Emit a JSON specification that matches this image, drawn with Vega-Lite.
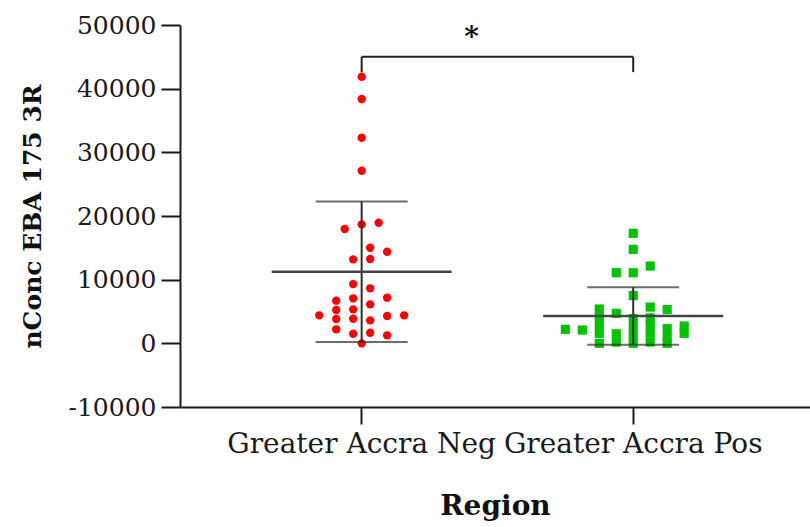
{
  "$schema": "https://vega.github.io/schema/vega-lite/v6.json",
  "autosize": {"type": "none"},
  "width": 630,
  "height": 382,
  "padding": {"left": 180, "top": 25, "right": 0, "bottom": 120},
  "background": "white",
  "config": {
    "view": {"stroke": null},
    "font": "DejaVu Serif",
    "axis": {
      "domainColor": "#1a1a1a",
      "domainWidth": 2,
      "tickColor": "#1a1a1a",
      "tickWidth": 2,
      "labelColor": "#1a1a1a",
      "titleColor": "#111111",
      "labelFont": "DejaVu Serif",
      "titleFont": "DejaVu Serif",
      "grid": false
    }
  },
  "datasets": {
    "samples": [
      {"region": "Greater Accra Neg", "slot": 0, "nconc": 41870},
      {"region": "Greater Accra Neg", "slot": 0, "nconc": 38370},
      {"region": "Greater Accra Neg", "slot": 0, "nconc": 32290},
      {"region": "Greater Accra Neg", "slot": 0, "nconc": 27110},
      {"region": "Greater Accra Neg", "slot": -2, "nconc": 17950},
      {"region": "Greater Accra Neg", "slot": 0, "nconc": 18690},
      {"region": "Greater Accra Neg", "slot": 2, "nconc": 18940},
      {"region": "Greater Accra Neg", "slot": 1, "nconc": 15020},
      {"region": "Greater Accra Neg", "slot": 3, "nconc": 14390},
      {"region": "Greater Accra Neg", "slot": -1, "nconc": 13190},
      {"region": "Greater Accra Neg", "slot": 1, "nconc": 13240},
      {"region": "Greater Accra Neg", "slot": -1, "nconc": 9310},
      {"region": "Greater Accra Neg", "slot": 1, "nconc": 8640},
      {"region": "Greater Accra Neg", "slot": -3, "nconc": 6700},
      {"region": "Greater Accra Neg", "slot": -1, "nconc": 7070},
      {"region": "Greater Accra Neg", "slot": 3, "nconc": 7170},
      {"region": "Greater Accra Neg", "slot": 1, "nconc": 6120},
      {"region": "Greater Accra Neg", "slot": -5, "nconc": 4390},
      {"region": "Greater Accra Neg", "slot": -3, "nconc": 5230},
      {"region": "Greater Accra Neg", "slot": -1, "nconc": 5340},
      {"region": "Greater Accra Neg", "slot": -3, "nconc": 3820},
      {"region": "Greater Accra Neg", "slot": -1, "nconc": 3870},
      {"region": "Greater Accra Neg", "slot": 1, "nconc": 3610},
      {"region": "Greater Accra Neg", "slot": 3, "nconc": 4290},
      {"region": "Greater Accra Neg", "slot": 5, "nconc": 4390},
      {"region": "Greater Accra Neg", "slot": -3, "nconc": 2200},
      {"region": "Greater Accra Neg", "slot": -1, "nconc": 1510},
      {"region": "Greater Accra Neg", "slot": 1, "nconc": 1670},
      {"region": "Greater Accra Neg", "slot": 3, "nconc": 1260},
      {"region": "Greater Accra Neg", "slot": 0, "nconc": 0},
      {"region": "Greater Accra Pos", "slot": 0, "nconc": 17280},
      {"region": "Greater Accra Pos", "slot": 0, "nconc": 14760},
      {"region": "Greater Accra Pos", "slot": -2, "nconc": 11090},
      {"region": "Greater Accra Pos", "slot": 0, "nconc": 11090},
      {"region": "Greater Accra Pos", "slot": 2, "nconc": 12140},
      {"region": "Greater Accra Pos", "slot": 0, "nconc": 7500},
      {"region": "Greater Accra Pos", "slot": -8, "nconc": 2200},
      {"region": "Greater Accra Pos", "slot": -6, "nconc": 2090},
      {"region": "Greater Accra Pos", "slot": -4, "nconc": 5390},
      {"region": "Greater Accra Pos", "slot": -4, "nconc": 4190},
      {"region": "Greater Accra Pos", "slot": -4, "nconc": 2870},
      {"region": "Greater Accra Pos", "slot": -4, "nconc": 1570},
      {"region": "Greater Accra Pos", "slot": -4, "nconc": 0},
      {"region": "Greater Accra Pos", "slot": -2, "nconc": 4710},
      {"region": "Greater Accra Pos", "slot": -2, "nconc": 1500},
      {"region": "Greater Accra Pos", "slot": -2, "nconc": 200},
      {"region": "Greater Accra Pos", "slot": 0, "nconc": 3900},
      {"region": "Greater Accra Pos", "slot": 0, "nconc": 2500},
      {"region": "Greater Accra Pos", "slot": 0, "nconc": 1200},
      {"region": "Greater Accra Pos", "slot": 0, "nconc": 0},
      {"region": "Greater Accra Pos", "slot": 2, "nconc": 5700},
      {"region": "Greater Accra Pos", "slot": 2, "nconc": 4000},
      {"region": "Greater Accra Pos", "slot": 2, "nconc": 2900},
      {"region": "Greater Accra Pos", "slot": 2, "nconc": 1600},
      {"region": "Greater Accra Pos", "slot": 2, "nconc": 200},
      {"region": "Greater Accra Pos", "slot": 4, "nconc": 5300},
      {"region": "Greater Accra Pos", "slot": 4, "nconc": 2300},
      {"region": "Greater Accra Pos", "slot": 4, "nconc": 900},
      {"region": "Greater Accra Pos", "slot": 4, "nconc": 0},
      {"region": "Greater Accra Pos", "slot": 6, "nconc": 2720},
      {"region": "Greater Accra Pos", "slot": 6, "nconc": 1570}
    ],
    "bracket": [
      {"from": "Greater Accra Neg", "to": "Greater Accra Pos", "top": 45000, "foot": 42600, "star": 48000, "label": "*"}
    ]
  },
  "encoding": {
    "x": {
      "field": "region",
      "type": "nominal",
      "sort": ["Greater Accra Neg", "Greater Accra Pos"],
      "scale": {
        "domain": ["Greater Accra Neg", "Greater Accra Pos"],
        "paddingInner": 0,
        "paddingOuter": 0.16,
        "align": 0.528
      },
      "axis": {
        "title": "Region",
        "labelAngle": 0,
        "labelFontSize": 28,
        "labelPadding": 6,
        "labelLimit": 400,
        "tickSize": 17,
        "titleFontSize": 28,
        "titleFontWeight": "bold",
        "titlePadding": 34
      }
    }
  },
  "layer": [
    {
      "mark": {"type": "rule", "color": "#333333", "strokeWidth": 3, "strokeDash": [3.5, 9.2]},
      "encoding": {"y": {"datum": 0, "type": "quantitative", "title": "nConc EBA 175 3R"}, "x": null}
    },
    {
      "data": {"name": "samples"},
      "transform": [{"filter": "datum.region === 'Greater Accra Neg'"}],
      "mark": {"type": "point", "shape": "circle", "filled": true, "size": 70, "color": "#ff0000", "opacity": 1},
      "encoding": {
        "xOffset": {"field": "slot", "type": "quantitative", "scale": {"domain": [-16, 16], "range": [0, 271.6]}},
        "y": {
          "field": "nconc",
          "type": "quantitative",
          "title": "nConc EBA 175 3R",
          "scale": {"domain": [-10000, 50000], "nice": false, "zero": false},
          "axis": {
            "values": [-10000, 0, 10000, 20000, 30000, 40000, 50000],
            "labelExpr": "datum.value < 0 ? '-' + abs(datum.value) : '' + datum.value",
            "labelFontSize": 25,
            "labelPadding": 5,
            "tickSize": 19,
            "titleFontSize": 25,
            "titleFontWeight": "bold",
            "titlePadding": 23
          }
        }
      }
    },
    {
      "data": {"name": "samples"},
      "transform": [{"filter": "datum.region === 'Greater Accra Pos'"}],
      "mark": {"type": "point", "shape": "square", "filled": true, "size": 84, "color": "#00c400", "opacity": 1},
      "encoding": {
        "xOffset": {"field": "slot", "type": "quantitative", "scale": {"domain": [-16, 16], "range": [0, 271.6]}},
        "y": {"field": "nconc", "type": "quantitative", "title": "nConc EBA 175 3R"}
      }
    },
    {
      "data": {"name": "samples"},
      "mark": {"type": "errorbar", "extent": "stdev", "ticks": {"size": 92, "thickness": 2, "color": "#2e2e2e"}, "rule": {"strokeWidth": 2, "color": "#2e2e2e"}},
      "encoding": {"y": {"field": "nconc", "type": "quantitative", "title": "nConc EBA 175 3R"}}
    },
    {
      "data": {"name": "samples"},
      "mark": {"type": "tick", "size": 180, "thickness": 2.5, "color": "#444444", "opacity": 1},
      "encoding": {"y": {"field": "nconc", "type": "quantitative", "aggregate": "mean", "title": "nConc EBA 175 3R"}}
    },
    {
      "data": {"name": "bracket"},
      "mark": {"type": "rule", "color": "#222222", "strokeWidth": 2},
      "encoding": {
        "x": {"field": "from", "type": "nominal"},
        "x2": {"field": "to"},
        "y": {"field": "top", "type": "quantitative", "title": "nConc EBA 175 3R"}
      }
    },
    {
      "data": {"name": "bracket"},
      "mark": {"type": "rule", "color": "#222222", "strokeWidth": 2},
      "encoding": {
        "x": {"field": "from", "type": "nominal"},
        "y": {"field": "foot", "type": "quantitative", "title": "nConc EBA 175 3R"},
        "y2": {"field": "top"}
      }
    },
    {
      "data": {"name": "bracket"},
      "mark": {"type": "rule", "color": "#222222", "strokeWidth": 2},
      "encoding": {
        "x": {"field": "to", "type": "nominal"},
        "y": {"field": "foot", "type": "quantitative", "title": "nConc EBA 175 3R"},
        "y2": {"field": "top"}
      }
    },
    {
      "data": {"name": "bracket"},
      "mark": {"type": "text", "font": "DejaVu Serif", "fontWeight": "bold", "fontSize": 28, "color": "#111111", "dx": 110, "baseline": "middle"},
      "encoding": {
        "x": {"field": "from", "type": "nominal"},
        "y": {"field": "star", "type": "quantitative", "title": "nConc EBA 175 3R"},
        "text": {"field": "label"}
      }
    }
  ]
}
